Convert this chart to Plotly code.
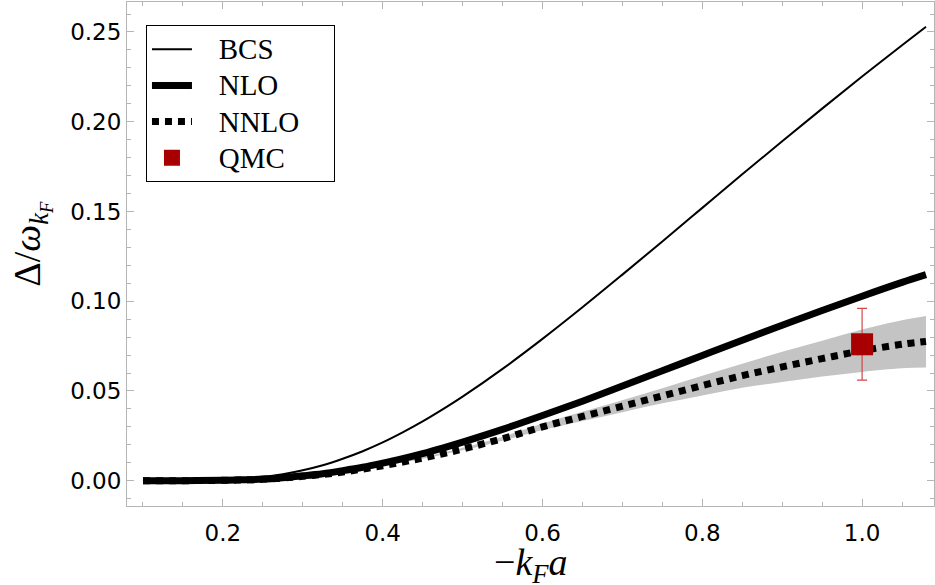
import plotly.graph_objects as go

# x values (-k_F a)
x_vals = [0.10, 0.15, 0.20, 0.225, 0.25, 0.275, 0.30, 0.325, 0.35, 0.375, 0.40, 0.425,
          0.45, 0.475, 0.50, 0.55, 0.60, 0.65, 0.70, 0.75, 0.80, 0.85, 0.90, 0.95,
          1.00, 1.05, 1.08]

bcs = [0.0000, 0.00003, 0.0004, 0.0010, 0.0020, 0.0036, 0.0058, 0.0086, 0.0122, 0.0164,
       0.0213, 0.0269, 0.0330, 0.0397, 0.0468, 0.0623, 0.0790, 0.0966, 0.1148, 0.1333,
       0.1520, 0.1707, 0.1891, 0.2073, 0.2252, 0.2426, 0.2529]

nlo = [0.0000, 0.00001, 0.0002, 0.0005, 0.0009, 0.0017, 0.0027, 0.0039, 0.0056, 0.0075,
       0.0098, 0.0123, 0.0151, 0.0182, 0.0215, 0.0286, 0.0363, 0.0443, 0.0527, 0.0612,
       0.0698, 0.0783, 0.0866, 0.0948, 0.1028, 0.1105, 0.1148]

nnlo = [0.0000, 0.00001, 0.0002, 0.0004, 0.0008, 0.0015, 0.0024, 0.0035, 0.0048, 0.0065,
        0.0083, 0.0104, 0.0126, 0.0150, 0.0176, 0.0234, 0.0300, 0.0358, 0.0415, 0.0473,
        0.0530, 0.0585, 0.0634, 0.0680, 0.0724, 0.0760, 0.0776]

band_low = [0.0000, 0.00001, 0.0002, 0.0004, 0.0008, 0.0015, 0.0024, 0.0034, 0.0047, 0.0063,
            0.0081, 0.0101, 0.0122, 0.0145, 0.0169, 0.0223, 0.0282, 0.0332, 0.0382, 0.0431,
            0.0475, 0.0518, 0.0550, 0.0580, 0.0606, 0.0626, 0.0630]

band_high = [0.0000, 0.00001, 0.0002, 0.0004, 0.0008, 0.0015, 0.0024, 0.0036, 0.0049, 0.0067,
             0.0085, 0.0107, 0.0130, 0.0155, 0.0183, 0.0245, 0.0318, 0.0384, 0.0448, 0.0515,
             0.0585, 0.0652, 0.0718, 0.0780, 0.0842, 0.0894, 0.0918]

qmc_x = [1.0]
qmc_y = [0.076]
qmc_err = [0.020]

x_ticks = [0.2, 0.4, 0.6, 0.8, 1.0]
x_ticktext = ["0.2", "0.4", "0.6", "0.8", "1.0"]
y_ticks = [0.0, 0.05, 0.10, 0.15, 0.20, 0.25]
y_ticktext = ["0.00", "0.05", "0.10", "0.15", "0.20", "0.25"]

NB = "\u00a0"


def legend_name(label):
    return "<span style='font-size:29px'>" + NB * 3 + label + NB * 4 + "</span>"


fig = go.Figure()

fig.add_trace(go.Scatter(x=x_vals, y=band_low, mode="lines", line=dict(width=0, color="rgba(0,0,0,0)"),
                         showlegend=False, hoverinfo="skip", line_shape="spline"))
fig.add_trace(go.Scatter(x=x_vals, y=band_high, mode="lines", line=dict(width=0, color="rgba(0,0,0,0)"),
                         fill="tonexty", fillcolor="#c4c4c4", showlegend=False, hoverinfo="skip",
                         line_shape="spline"))

fig.add_trace(go.Scatter(x=x_vals, y=bcs, mode="lines", name=legend_name("BCS"),
                         line=dict(color="black", width=2), line_shape="spline"))
fig.add_trace(go.Scatter(x=x_vals, y=nlo, mode="lines", name=legend_name("NLO"),
                         line=dict(color="black", width=7), line_shape="spline"))
fig.add_trace(go.Scatter(x=x_vals, y=nnlo, mode="lines", name=legend_name("NNLO"),
                         line=dict(color="black", width=7, dash="7px,6px"), line_shape="spline"))
fig.add_trace(go.Scatter(x=qmc_x, y=qmc_y, mode="markers", name=legend_name("QMC"),
                         marker=dict(symbol="square", size=22, color="#a80000"),
                         error_y=dict(type="data", array=qmc_err, color="#d04848", thickness=1.2, width=5)))

axis_common = dict(
    showline=True, linecolor="#b5b5b5", linewidth=1, mirror="ticks",
    ticks="inside", ticklen=7, tickcolor="#b5b5b5", tickwidth=1,
    showgrid=False, zeroline=False,
    tickfont=dict(family="DejaVu Sans, sans-serif", size=23, color="black"),
)

fig.update_xaxes(range=[0.08, 1.09], tickvals=x_ticks, ticktext=x_ticktext, ticklabelstandoff=6,
                 minor=dict(dtick=0.05, tick0=0, ticks="inside", ticklen=4, tickcolor="#b5b5b5", showgrid=False),
                 **axis_common)
fig.update_yaxes(range=[-0.0141, 0.2667], tickvals=y_ticks, ticktext=y_ticktext,
                 minor=dict(dtick=0.01, tick0=0, ticks="inside", ticklen=4, tickcolor="#b5b5b5", showgrid=False),
                 **axis_common)

fig.add_annotation(text="−<i>k</i><sub><i>F</i></sub><i>a</i>", xref="paper", yref="paper",
                   x=0.5, y=-0.117, xanchor="center", yanchor="middle", showarrow=False,
                   font=dict(family="Liberation Serif, Times New Roman, serif", size=38, color="black"))
fig.add_annotation(text="Δ/<i>ω</i><sub><i>k</i><sub><i>F</i></sub></sub>", xref="paper", yref="paper",
                   x=-0.118, y=0.52, xanchor="center", yanchor="middle", showarrow=False, textangle=-90,
                   font=dict(family="Liberation Serif, Times New Roman, serif", size=38, color="black"))

fig.update_layout(
    width=935, height=585,
    margin=dict(l=127, r=1, t=2, b=79),
    paper_bgcolor="white", plot_bgcolor="white",
    showlegend=True,
    legend=dict(x=0.0235, y=0.954, xanchor="left", yanchor="top", traceorder="normal",
                bordercolor="black", borderwidth=1, bgcolor="white",
                font=dict(family="Liberation Serif, Times New Roman, serif", size=25.5, color="black"),
                tracegroupgap=0, itemwidth=40),
)

fig.write_html("out.html", post_script="document.body.style.margin='0px';",
               config={"displayModeBar": False})
